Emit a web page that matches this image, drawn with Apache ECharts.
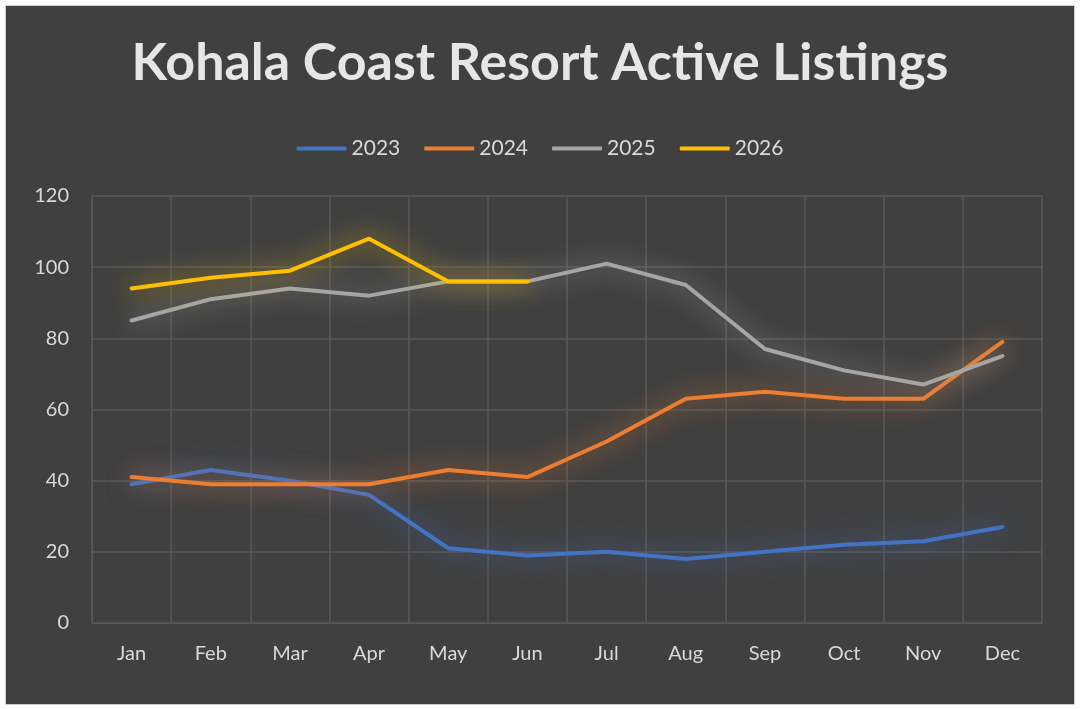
<!DOCTYPE html>
<html>
<head>
<meta charset="utf-8">
<script src="https://cdn.jsdelivr.net/npm/echarts@6/dist/echarts.min.js"></script>
<style>
  html, body { margin: 0; padding: 0; background: #ffffff; }
  #frame {
    position: absolute; left: 5px; top: 5px; width: 1070px; height: 700px;
    box-sizing: border-box; border: 1px solid #d0d0d0; background: #404040;
  }
  #chart { width: 1068px; height: 698px; }
</style>
</head>
<body>
<div id="frame"><div id="chart"></div></div>
<script>
const months = ['Jan', 'Feb', 'Mar', 'Apr', 'May', 'Jun', 'Jul', 'Aug', 'Sep', 'Oct', 'Nov', 'Dec'];
const years = ['2023', '2024', '2025', '2026'];
const colors = ['#4472c4', '#ed7d31', '#a5a5a5', '#ffc000'];

const listings2023 = [39, 43, 40, 36, 21, 19, 20, 18, 20, 22, 23, 27];
const listings2024 = [41, 39, 39, 39, 43, 41, 51, 63, 65, 63, 63, 79];
const listings2025 = [85, 91, 94, 92, 96, 96, 101, 95, 77, 71, 67, 75];
const listings2026 = [94, 97, 99, 108, 96, 96];

const seriesData = [listings2023, listings2024, listings2025, listings2026];

const chart = echarts.init(document.getElementById('chart'));

const labelFont = 'Lato, "Open Sans", sans-serif';

const option = {
  backgroundColor: '#404040',
  animation: false,
  color: colors,
  title: {
    text: 'Kohala Coast Resort Active Listings',
    left: 'center',
    top: 26,
    textStyle: {
      color: '#e6e6e6',
      fontSize: 52,
      fontWeight: 'bold',
      fontFamily: labelFont
    }
  },
  legend: {
    data: years,
    top: 127,
    left: 'center',
    icon: 'roundRect',
    itemWidth: 50,
    itemHeight: 4,
    itemGap: 24,
    textStyle: {
      color: '#d9d9d9',
      fontSize: 21,
      fontFamily: labelFont
    }
  },
  grid: {
    left: 86,
    right: 32,
    top: 190,
    bottom: 81
  },
  xAxis: {
    type: 'category',
    data: months,
    boundaryGap: true,
    axisLine: { show: true, lineStyle: { color: '#595959' } },
    axisTick: { show: false },
    splitLine: { show: true, lineStyle: { color: '#595959', width: 1.5 } },
    axisLabel: {
      color: '#d9d9d9',
      fontSize: 20,
      margin: 21,
      fontFamily: labelFont
    }
  },
  yAxis: {
    type: 'value',
    min: 0,
    max: 120,
    interval: 20,
    axisLine: { show: true, lineStyle: { color: '#595959' } },
    axisTick: { show: false },
    splitLine: { show: true, lineStyle: { color: '#595959', width: 1.5 } },
    axisLabel: {
      color: '#d9d9d9',
      fontSize: 20,
      margin: 23,
      fontFamily: labelFont
    }
  },
  series: years.map((name, i) => ({
    name: name,
    type: 'line',
    data: seriesData[i],
    symbol: 'none',
    lineStyle: {
      width: 4,
      color: colors[i],
      shadowColor: colors[i],
      shadowBlur: 26,
      cap: 'round',
      join: 'round'
    },
    itemStyle: { color: colors[i] },
    z: 2 + i
  }))
};

chart.setOption(option);
</script>
</body>
</html>
